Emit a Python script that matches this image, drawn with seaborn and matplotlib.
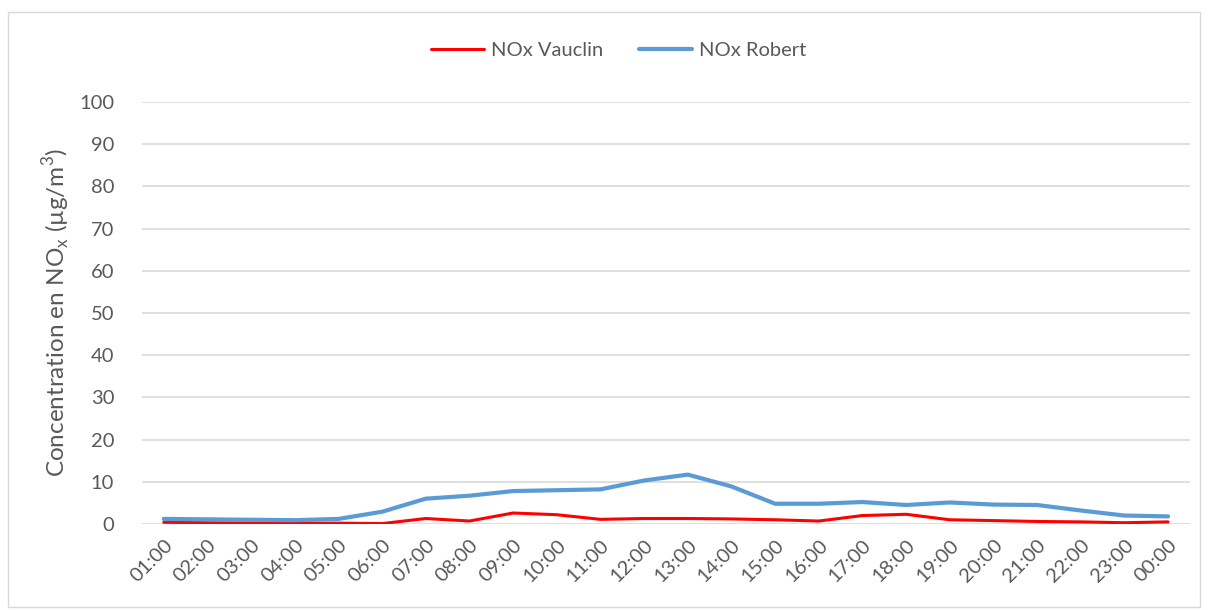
import matplotlib
matplotlib.use("Agg")
import matplotlib.pyplot as plt
import seaborn as sns
import pandas as pd

hours = ["01:00", "02:00", "03:00", "04:00", "05:00", "06:00", "07:00", "08:00",
         "09:00", "10:00", "11:00", "12:00", "13:00", "14:00", "15:00", "16:00",
         "17:00", "18:00", "19:00", "20:00", "21:00", "22:00", "23:00", "00:00"]
vauclin = [0.4, 0.3, 0.2, 0.2, 0.2, 0.1, 1.3, 0.7, 2.6, 2.2, 1.1, 1.3,
           1.3, 1.2, 1.0, 0.7, 2.0, 2.3, 1.0, 0.8, 0.6, 0.5, 0.3, 0.5]
robert = [1.2, 1.1, 1.0, 0.9, 1.2, 2.9, 6.0, 6.7, 7.8, 8.0, 8.2, 10.3,
          11.7, 8.9, 4.8, 4.8, 5.2, 4.5, 5.1, 4.6, 4.5, 3.2, 2.0, 1.8]

df = pd.DataFrame({
    "heure": hours * 2,
    "valeur": vauclin + robert,
    "serie": ["NOx Vauclin"] * len(hours) + ["NOx Robert"] * len(hours),
})
df["pos"] = list(range(len(hours))) * 2

sns.set_style("white")
plt.rcParams["font.family"] = ["Lato", "DejaVu Sans"]
grey = "#595959"

fig = plt.figure(figsize=(12.08, 6.10), dpi=100)
ax = fig.add_axes([0.1175, 0.141, 0.8675, 0.692])

sns.lineplot(data=df, x="pos", y="valeur", hue="serie", size="serie",
             sizes={"NOx Vauclin": 2.2, "NOx Robert": 3.0},
             palette={"NOx Vauclin": "#ff0000", "NOx Robert": "#5b9bd5"},
             ax=ax, legend=True)

ax.set_xlim(-0.5, len(hours) - 0.5)
ax.set_ylim(0, 100)
ax.set_yticks(range(0, 101, 10))
ax.set_xticks(range(len(hours)))
ax.set_xticklabels(hours, rotation=45, ha="right", rotation_mode="anchor")
ax.tick_params(axis="both", colors=grey, labelsize=14.5, length=0)
ax.tick_params(axis="x", pad=9)
ax.tick_params(axis="y", pad=20)
ax.grid(axis="y", color="#d9d9d9", linewidth=1.2)
ax.set_axisbelow(True)
for s in ax.spines.values():
    s.set_visible(False)
ax.set_xlabel("")
ax.set_ylabel("Concentration en NO$_\\mathregular{x}$ (µg/m$^\\mathregular{3}$)",
              fontsize=17.5, color=grey, labelpad=4)

handles, labels = ax.get_legend_handles_labels()
ax.legend(handles, labels, loc="center", bbox_to_anchor=(0.455, 1.122),
          ncol=2, frameon=False, fontsize=14.5, labelcolor=grey,
          handlelength=2.6, handletextpad=0.35, columnspacing=1.8)

border = plt.Rectangle((0.007, 0.005), 0.986, 0.975, transform=fig.transFigure,
                       fill=False, edgecolor="#d9d9d9", linewidth=1)
fig.patches.append(border)

fig.savefig("out.png", dpi=100)
